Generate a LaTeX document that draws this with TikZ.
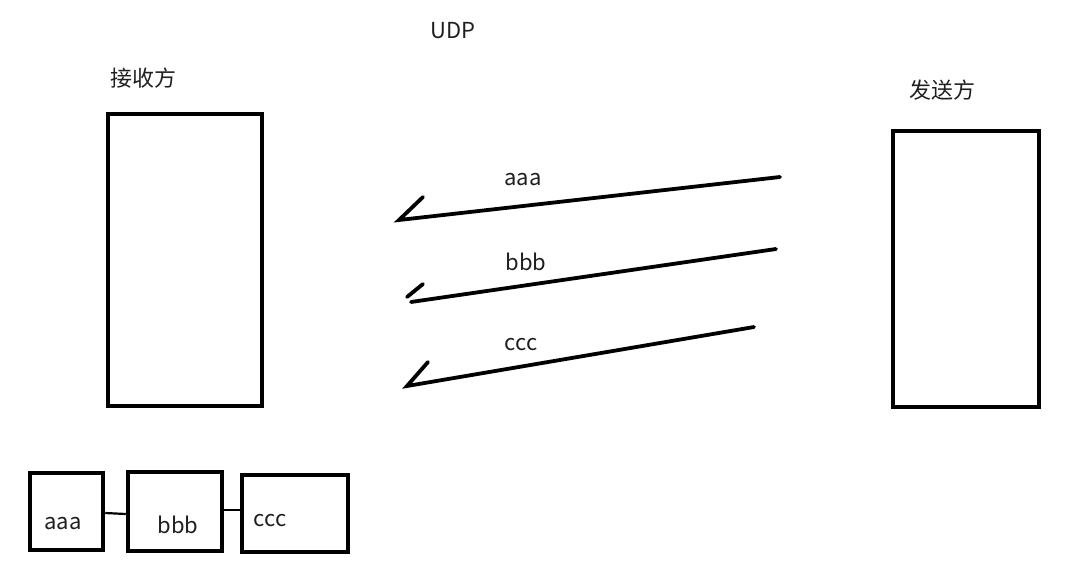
\documentclass[tikz,border=0pt]{standalone}
\usepackage{fontspec}
\setmainfont{Noto Sans CJK SC}
\begin{document}
\begin{tikzpicture}[x=1pt,y=-1pt,
  lbl/.style={inner sep=0pt,text=black!88,font=\fontsize{22}{26}\selectfont},
  box/.style={draw,line width=3.5pt,inner sep=0pt},
  qbox/.style={draw,line width=4.5pt,inner sep=0pt},
  msg/.style={line width=3.8pt,line cap=round},
  link/.style={line width=2.2pt}]
\useasboundingbox (0,0) rectangle (1066,571);
\node[lbl] (udp) at (453,31) {UDP};
\node[lbl] (rlbl) at (143,78) {接收方};
\node[lbl] (slbl) at (942,90) {发送方};
\node[box,minimum width=154pt,minimum height=292pt] (recv) at (185,260) {};
\node[box,minimum width=146pt,minimum height=276pt] (send) at (966,269) {};
% arrows
\coordinate (a1) at (780,177); \coordinate (a2) at (399,220); \coordinate (a3) at (423,197);
\draw[msg] (a1) -- (a2) -- (a3);
\node[lbl] (la) at (523,180) {aaa};
\coordinate (b1) at (776,249); \coordinate (b2) at (411,302);
\coordinate (b3) at (407,297); \coordinate (b4) at (423,284);
\draw[msg] (b1) -- (b2);
\draw[msg] (b3) -- (b4);
\node[lbl] (lb) at (526,262) {bbb};
\coordinate (c1) at (754,327); \coordinate (c2) at (407,386); \coordinate (c3) at (428,362);
\draw[msg] (c1) -- (c2) -- (c3);
\node[lbl] (lc) at (521,345) {ccc};
% bottom list
\node[qbox,minimum width=73pt,minimum height=77pt] (q1) at (66.5,511.5) {};
\node[qbox,minimum width=94pt,minimum height=79pt] (q2) at (175,511.5) {};
\node[qbox,minimum width=106pt,minimum height=77pt] (q3) at (295,513.5) {};
\node[lbl] (t1) at (63,524) {aaa};
\node[lbl] (t2) at (178,525) {bbb};
\node[lbl] (t3) at (270,521) {ccc};
\draw[link] (q1.east |- 0,513) -- (q2.west |- 0,514);
\draw[link] (q2.east |- 0,510) -- (q3.west |- 0,510);
\end{tikzpicture}
\end{document}
